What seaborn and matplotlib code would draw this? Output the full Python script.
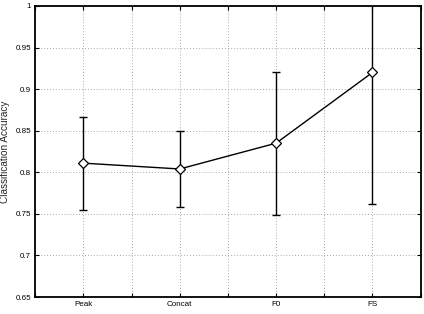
import matplotlib
matplotlib.use("Agg")
import matplotlib.pyplot as plt
import seaborn as sns
import numpy as np
import pandas as pd

categories = ["Peak", "Concat", "F0", "FS"]
accuracy = [0.811, 0.804, 0.835, 0.920]
error = [0.056, 0.046, 0.086, 0.158]
y_ticks = [0.65, 0.7, 0.75, 0.8, 0.85, 0.9, 0.95, 1.0]
y_tick_labels = ["0.65", "0.7", "0.75", "0.8", "0.85", "0.9", "0.95", "1"]

sns.set_style("white")
plt.rcParams['font.family'] = ['Liberation Sans', 'DejaVu Sans']

fig = plt.figure(figsize=(4.24, 3.14), dpi=100)
ax = fig.add_axes([0.083, 0.054, 0.909, 0.927])

pos = np.arange(1, len(categories) + 1)
df = pd.DataFrame({"pos": pos, "acc": accuracy})

ax.errorbar(pos, accuracy, yerr=error, fmt='none', ecolor='black',
            elinewidth=1.0, capsize=3, capthick=1.0, zorder=3)
sns.lineplot(data=df, x="pos", y="acc", ax=ax, color='black', linewidth=1.0,
             marker='D', markersize=5.5, markerfacecolor='white',
             markeredgecolor='black', markeredgewidth=0.9, zorder=4)

ax.set_xlim(0.5, 4.5)
ax.set_ylim(0.65, 1.0)
xt = np.arange(0.5, 4.51, 0.5)
ax.set_xticks(xt)
ax.set_xticklabels([categories[int(v) - 1] if abs(v - round(v)) < 1e-9 and 1 <= v <= 4 else "" for v in xt])
ax.set_yticks(y_ticks)
ax.set_yticklabels(y_tick_labels)

ax.grid(True, linestyle=(0, (1, 2.5)), color='#8a8a8a', linewidth=0.6)
ax.tick_params(axis='both', direction='in', length=3, width=0.8, labelsize=5.8,
               top=True, right=True, bottom=True, left=True, pad=3, colors='black')
for s in ax.spines.values():
    s.set_visible(True)
    s.set_color('black')
    s.set_linewidth(1.3)

ax.set_xlabel("")
ax.set_ylabel("Classification Accuracy", fontsize=7.2, labelpad=4)

fig.savefig("out.png", dpi=100)
